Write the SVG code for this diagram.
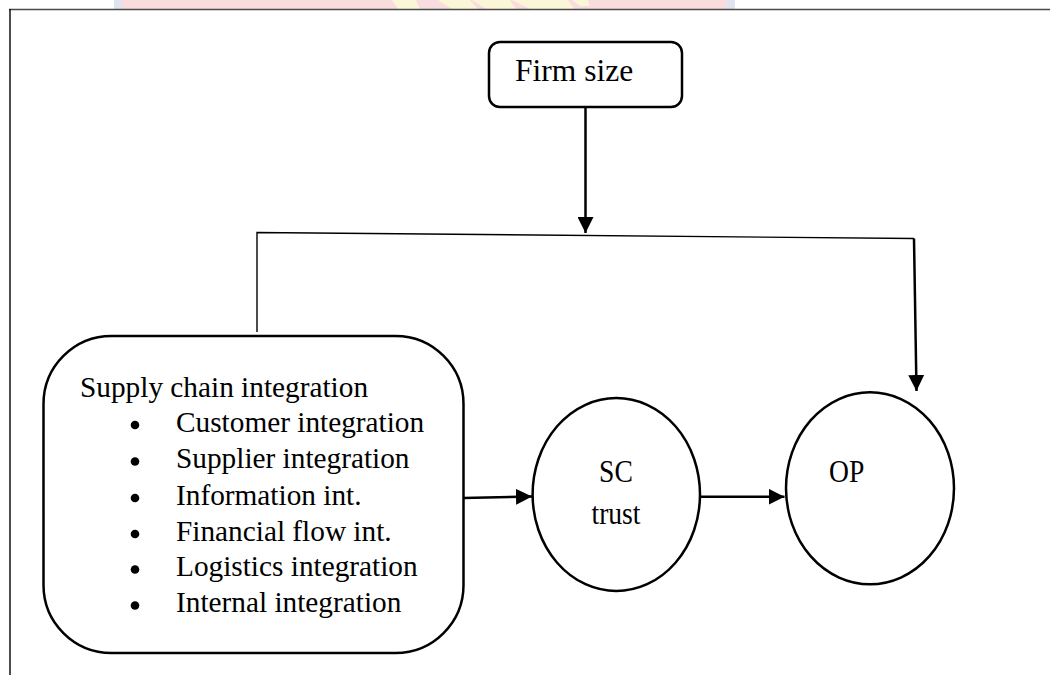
<svg xmlns="http://www.w3.org/2000/svg" width="1050" height="675" viewBox="0 0 1050 675">
  <style>
    .box { fill: #ffffff; stroke: #000000; stroke-width: 2.5; }
    .lbl { font-family: "Liberation Serif", "Times New Roman", serif; fill: #000000; }
    .thin { fill: none; stroke: #000000; stroke-width: 1.4; }
    .arrow { fill: none; stroke: #000000; stroke-width: 2.5; }
  </style>
  <defs>
    <marker id="head" viewBox="0 0 10 10" refX="10" refY="5" markerWidth="6.4" markerHeight="6.4" markerUnits="strokeWidth" orient="auto">
      <path d="M0,0 L10,5 L0,10 Z" fill="#000000"/>
    </marker>
  </defs>

  <rect x="0" y="0" width="1050" height="675" fill="#ffffff"/>

  <!-- faint banner strip at the top edge -->
  <g id="banner">
    <rect x="114" y="0" width="621" height="9" fill="#dfe4ef"/>
    <rect x="122" y="0" width="605" height="9" fill="#f9dcdd"/>
    <polygon points="392,0 416,0 420,9 398,9" fill="#fcf6d8"/>
    <polygon points="438,0 470,0 478,9 452,9" fill="#fcf6d8"/>
    <polygon points="472,0 510,0 516,9 486,9" fill="#fcf6d8"/>
    <polygon points="512,0 568,0 574,9 530,9" fill="#fcf6d8"/>
    <polygon points="572,0 588,0 590,6 580,6" fill="#fcf6d8"/>
  </g>

  <!-- page frame -->
  <g id="frame">
    <line x1="9" y1="9.5" x2="1050" y2="9.5" stroke="#4a4a4a" stroke-width="1.6"/>
    <line x1="10" y1="9" x2="10" y2="675" stroke="#000000" stroke-width="1.4"/>
  </g>

  <g id="connectors">
    <!-- moderation bracket from the integration box to OP -->
    <polyline class="thin" points="257,332 257,232.5 914,238.5"/>
    <line class="arrow" x1="914" y1="238.5" x2="916.5" y2="391" marker-end="url(#head)"/>
    <!-- firm size onto the bracket -->
    <line class="arrow" x1="585.5" y1="107" x2="585.5" y2="233" marker-end="url(#head)"/>
    <!-- integration to trust -->
    <line class="arrow" x1="463" y1="498" x2="532" y2="496.5" marker-end="url(#head)"/>
    <!-- trust to performance -->
    <line class="arrow" x1="701" y1="496.7" x2="784.5" y2="496.7" marker-end="url(#head)"/>
  </g>

  <g id="firm-size">
    <rect class="box" x="489" y="42" width="193" height="65" rx="11" ry="11"/>
    <text class="lbl" x="515" y="80.7" font-size="31.5">Firm size</text>
  </g>

  <g id="sci">
    <rect class="box" x="43.5" y="336" width="420" height="317" rx="68" ry="68"/>
    <text class="lbl" x="80" y="396.7" font-size="29.3">Supply chain integration</text>
    <g fill="#000000">
      <circle cx="135" cy="425" r="4.3"/>
      <circle cx="135" cy="461.5" r="4.3"/>
      <circle cx="135" cy="498" r="4.3"/>
      <circle cx="135" cy="534" r="4.3"/>
      <circle cx="135" cy="569.5" r="4.3"/>
      <circle cx="135" cy="605.5" r="4.3"/>
    </g>
    <g class="lbl" font-size="29.3">
      <text x="176" y="431.7">Customer integration</text>
      <text x="176" y="468">Supplier integration</text>
      <text x="176" y="504.5">Information int.</text>
      <text x="176" y="540.5">Financial flow int.</text>
      <text x="176" y="576">Logistics integration</text>
      <text x="176" y="612">Internal integration</text>
    </g>
  </g>

  <g id="sc-trust">
    <ellipse class="box" cx="616.3" cy="494.5" rx="83.7" ry="96.5"/>
    <text class="lbl" transform="translate(616 481.7) scale(1 1.15)" font-size="27.6" text-anchor="middle">SC</text>
    <text class="lbl" transform="translate(616 524) scale(1 1.15)" font-size="27.6" text-anchor="middle">trust</text>
  </g>

  <g id="op">
    <ellipse class="box" cx="870" cy="488.3" rx="84" ry="96"/>
    <text class="lbl" transform="translate(846.7 481.7) scale(1 1.15)" font-size="27.6" text-anchor="middle">OP</text>
  </g>
</svg>
